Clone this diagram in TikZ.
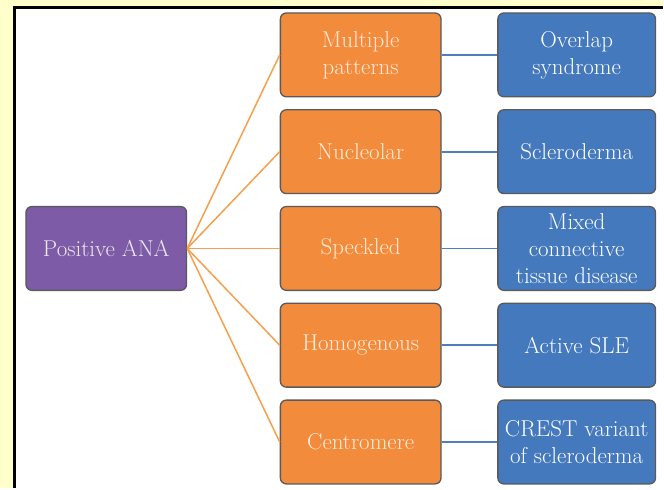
\documentclass[tikz,border=0pt]{standalone}
\usepackage{tikz}
\usetikzlibrary{positioning,shapes}
\definecolor{bgyellow}{HTML}{FFFFCC}
\definecolor{anapurple}{HTML}{7D5BA6}
\definecolor{patorange}{HTML}{F38B3C}
\definecolor{disblue}{HTML}{4479BE}
\definecolor{edgegray}{HTML}{5A5A5A}
\definecolor{linkorange}{HTML}{F5A04E}
\definecolor{linkblue}{HTML}{4F7FBD}

\begin{document}
\begin{tikzpicture}[x=1pt, y=-1pt,
    box/.style={draw=edgegray, line width=1.3pt, rounded corners=6pt, minimum height=84pt,
                align=center, inner sep=1pt, font=\fontsize{23}{27}\selectfont},
    anabox/.style={box, fill=anapurple, text=anapurple!15, minimum width=161pt},
    patbox/.style={box, fill=patorange, text=orange!15, minimum width=161pt},
    disbox/.style={box, fill=disblue, text=white, minimum width=158pt},
    olink/.style={draw=linkorange, line width=1.5pt},
    blink/.style={draw=linkblue, line width=1.8pt}]
      % background and frame
      \fill [bgyellow] (0, 0) rectangle (664, 489);
      \fill [white] (15, 8) rectangle (664, 489);
      \draw [line width=3pt] (15, 489) -- (15, 8) -- (664, 8);
      % nodes
      \node (ana) [anabox] at (106.5, 249) {Positive ANA};
      \node (multi) [patbox] at (361.5, 55) {Multiple\\patterns};
      \node (nucl) [patbox] at (361.5, 152) {Nucleolar};
      \node (speck) [patbox] at (361.5, 249) {Speckled};
      \node (homo) [patbox] at (361.5, 346) {Homogenous};
      \node (centro) [patbox] at (361.5, 443) {Centromere};
      \node (overlap) [disbox] at (578, 55) {Overlap\\syndrome};
      \node (sclero) [disbox] at (578, 152) {Scleroderma};
      \node (mctd) [disbox] at (578, 249) {Mixed\\connective\\tissue disease};
      \node (sle) [disbox] at (578, 346) {Active SLE};
      \node (crest) [disbox] at (578, 443) {CREST variant\\of scleroderma};
      % connectors
      \draw [olink] (ana.east) edge (multi.west)
                    (ana.east) edge (nucl.west)
                    (ana.east) edge (speck.west)
                    (ana.east) edge (homo.west)
                    (ana.east) edge (centro.west);
      \draw [blink] (multi) edge (overlap)
                    (nucl) edge (sclero)
                    (speck) edge (mctd)
                    (homo) edge (sle)
                    (centro) edge (crest);
\end{tikzpicture}
\end{document}
